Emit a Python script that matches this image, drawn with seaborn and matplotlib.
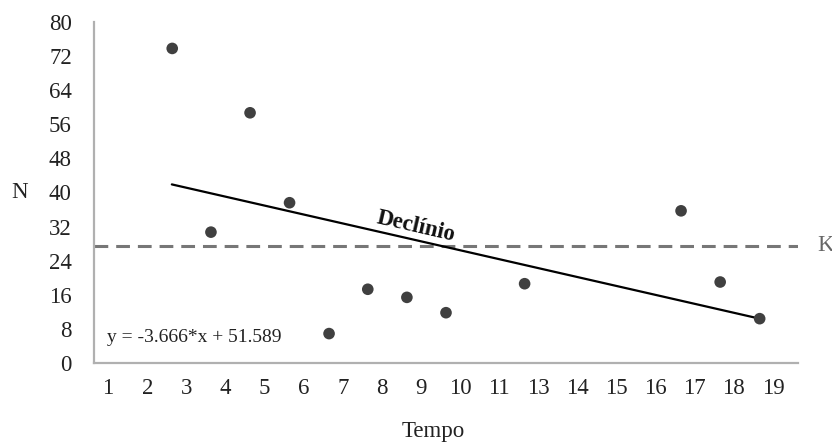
import matplotlib
matplotlib.use("Agg")
import matplotlib.pyplot as plt
import seaborn as sns
import pandas as pd

# ---- data ----
tick_pos = list(range(1, 19))
tick_labels = ["1", "2", "3", "4", "5", "6", "7", "8", "9", "10", "11",
               "13", "14", "15", "16", "17", "18", "19"]
point_x = [2.64, 3.63, 4.63, 5.64, 6.65, 7.64, 8.64, 9.64, 11.65, 15.65, 16.65, 17.66]
point_y = [73.8, 30.7, 58.7, 37.6, 6.9, 17.3, 15.4, 11.8, 18.6, 35.7, 19.0, 10.4]
trend_x = [2.63, 17.66]
trend_y = [41.9, 10.4]
K_value = 27.5
y_ticks = list(range(0, 81, 8))
equation = "y = -3.666*x + 51.589"

sns.set_theme(style="white")
plt.rcParams["font.family"] = ["Liberation Serif", "DejaVu Serif"]

fig = plt.figure(figsize=(8.32, 4.42), dpi=100)
ax = fig.add_axes([94 / 832, 1 - 363 / 442, 704 / 832, 341 / 442])

pts = pd.DataFrame({"x": point_x, "y": point_y})
trend = pd.DataFrame({"x": trend_x, "y": trend_y})

ax.axhline(K_value, color="#777777", lw=2.2, linestyle=(0, (4.5, 2.6)), zorder=1)
sns.lineplot(data=trend, x="x", y="y", ax=ax, color="black", lw=1.6, zorder=2)
sns.scatterplot(data=pts, x="x", y="y", ax=ax, color="#404040", s=70,
                edgecolor="none", zorder=3)

ax.set_xlim(0.64, 18.64)
ax.set_ylim(0, 80)
ax.set_xticks(tick_pos)
ax.set_xticklabels(tick_labels)
ax.set_yticks(y_ticks)
ax.tick_params(axis="both", length=0, labelsize=16.5, colors="#222222")
ax.tick_params(axis="x", pad=11)
ax.tick_params(axis="y", pad=16)

for s in ["top", "right"]:
    ax.spines[s].set_visible(False)
for s in ["left", "bottom"]:
    ax.spines[s].set_color("#b0b0b0")
    ax.spines[s].set_linewidth(1.6)

ax.set_xlabel("Tempo", fontsize=16.5, color="#222222")
ax.xaxis.set_label_coords((433 - 94) / 704, -0.17)
ax.set_ylabel("N", fontsize=16.5, color="#222222", rotation=0, ha="center", va="center")
ax.yaxis.set_label_coords((20 - 94) / 704, 0.5)

ax.text(0.97, 5.9, equation, fontsize=14, ha="left", va="center", color="#222222")
ax.text(8.88, 31.9, "Declínio", fontsize=16.5, fontweight="bold", rotation=-13,
        ha="center", va="center", color="#111111", rotation_mode="anchor")
ax.text(1.027, K_value, "K", transform=ax.get_yaxis_transform(), fontsize=16.5,
        ha="left", va="center", color="#666666", clip_on=False)

fig.savefig("out.png", dpi=100, facecolor="white")
